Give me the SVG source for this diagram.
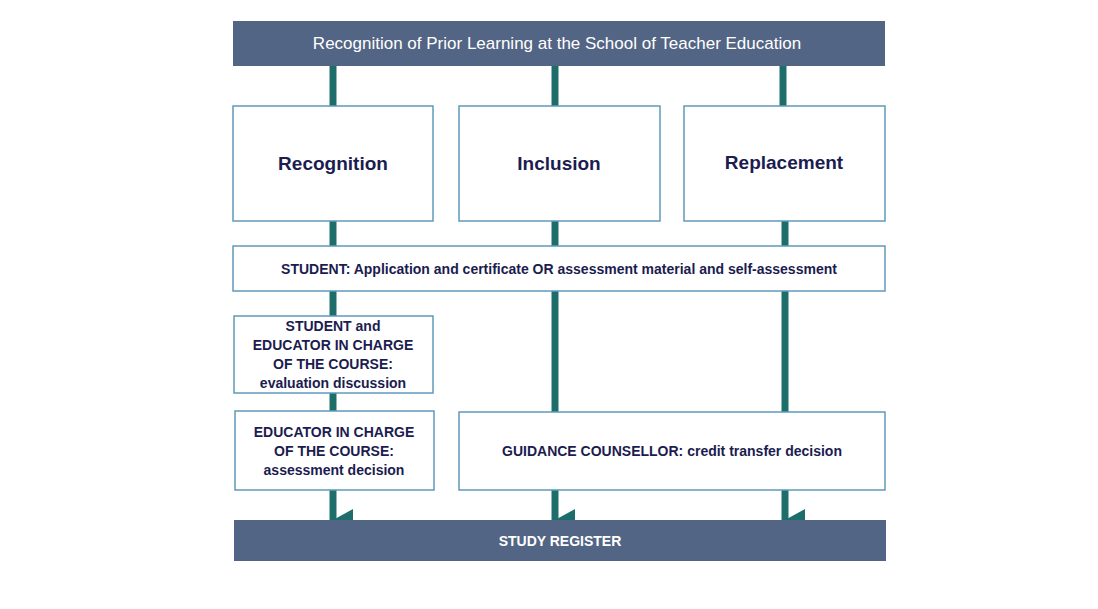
<svg xmlns="http://www.w3.org/2000/svg" width="1098" height="609" viewBox="0 0 1098 609">
<style>
.box{fill:#fff;stroke:#5f9bbb;stroke-width:1.5}
.bar{fill:#536584}
.t{font-family:"Liberation Sans",Arial,sans-serif;font-weight:bold;fill:#1b1c4f;text-anchor:middle}
.big{font-size:19px}
.sm{font-size:14px}
.ln{stroke:#1d6e6a;stroke-width:7;fill:none}
</style>
<defs><marker id="ah" markerUnits="userSpaceOnUse" markerWidth="22" markerHeight="22" refX="11" refY="20" orient="auto-start-reverse" viewBox="0 0 22 22"><path d="M0,0 L22,0 L11,20 Z" fill="#1d6e6a"/></marker></defs>
<g id="connectors">
<line class="ln" x1="333" y1="66" x2="333" y2="106"/>
<line class="ln" x1="555" y1="66" x2="555" y2="106"/>
<line class="ln" x1="783" y1="66" x2="783" y2="106"/>
<line class="ln" x1="333" y1="221" x2="333" y2="246"/>
<line class="ln" x1="555" y1="221" x2="555" y2="246"/>
<line class="ln" x1="785" y1="221" x2="785" y2="246"/>
<line class="ln" x1="333" y1="291" x2="333" y2="316"/>
<line class="ln" x1="333" y1="393" x2="333" y2="411"/>
<line class="ln" x1="555" y1="291" x2="555" y2="412"/>
<line class="ln" x1="785" y1="291" x2="785" y2="412"/>
<line class="ln" x1="333" y1="490" x2="333" y2="520" marker-end="url(#ah)"/>
<line class="ln" x1="555" y1="490" x2="555" y2="520" marker-end="url(#ah)"/>
<line class="ln" x1="785" y1="490" x2="785" y2="520" marker-end="url(#ah)"/>
</g>
<g id="header"><rect class="bar" x="233" y="21" width="652" height="45"/><text class="t" x="557" y="49" style="font-size:17px;font-weight:normal;fill:#fff">Recognition of Prior Learning at the School of Teacher Education</text></g>
<g id="recognition"><rect class="box" x="233" y="106" width="200" height="115"/><text class="t big" x="333" y="170">Recognition</text></g>
<g id="inclusion"><rect class="box" x="459" y="106" width="201" height="115"/><text class="t big" x="559" y="170">Inclusion</text></g>
<g id="replacement"><rect class="box" x="684" y="106" width="201" height="115"/><text class="t big" x="784" y="169">Replacement</text></g>
<g id="student"><rect class="box" x="233" y="246" width="652" height="45"/><text class="t sm" x="559" y="274">STUDENT: Application and certificate OR assessment material and self-assessment</text></g>
<g id="discussion"><rect class="box" x="234" y="316" width="199" height="77"/><text class="t sm" x="333" y="331"><tspan x="333">STUDENT and</tspan><tspan x="333" dy="19">EDUCATOR IN CHARGE</tspan><tspan x="333" dy="19">OF THE COURSE:</tspan><tspan x="333" dy="19">evaluation discussion</tspan></text></g>
<g id="decision"><rect class="box" x="235" y="411" width="199" height="79"/><text class="t sm" x="334" y="437"><tspan x="334">EDUCATOR IN CHARGE</tspan><tspan x="334" dy="19">OF THE COURSE:</tspan><tspan x="334" dy="19">assessment decision</tspan></text></g>
<g id="counsellor"><rect class="box" x="459" y="412" width="426" height="78"/><text class="t sm" x="672" y="456">GUIDANCE COUNSELLOR: credit transfer decision</text></g>
<g id="register"><rect class="bar" x="234" y="520" width="652" height="41"/><text class="t sm" x="560" y="546" style="fill:#fff">STUDY REGISTER</text></g>
</svg>
